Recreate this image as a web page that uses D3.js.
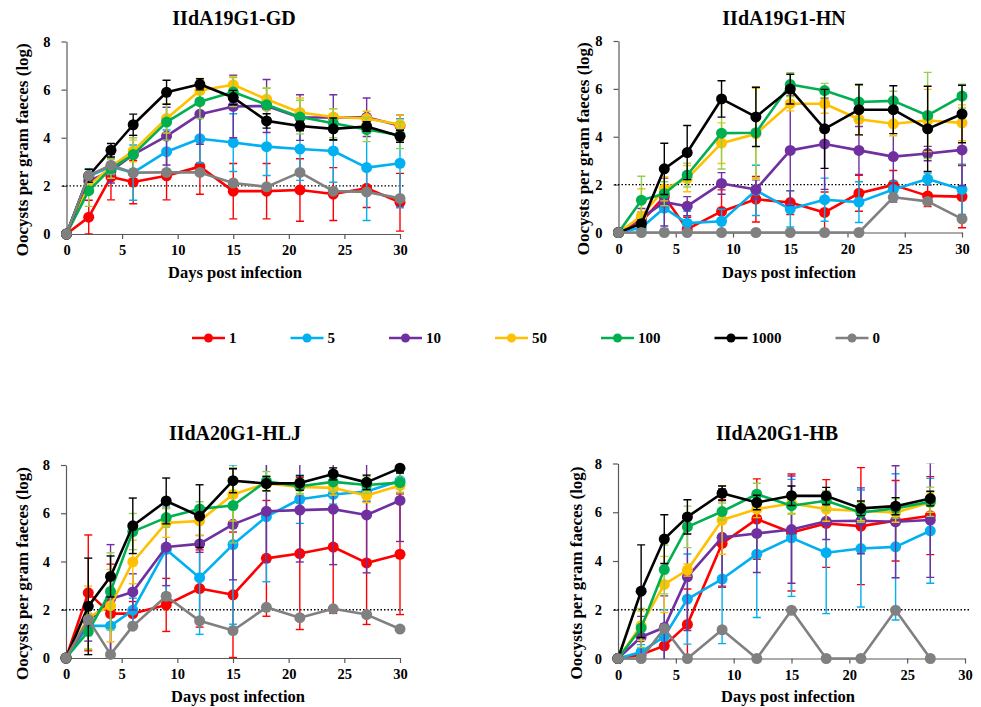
<!DOCTYPE html>
<html>
<head>
<meta charset="utf-8">
<script src="https://cdn.jsdelivr.net/npm/d3@7"></script>
<style>
  body { margin: 0; background: #fff; }
  svg { display: block; }
  text { font-family: "Liberation Serif", "Times New Roman", serif; font-weight: bold; fill: #000; }
</style>
</head>
<body>
<svg id="chart" width="981" height="707"></svg>
<script>
// doses (oocysts) and their colours, in drawing order
var doses = ["1", "5", "10", "50", "100", "1000", "0"];
var colors = ["#FF0000", "#00B0F0", "#7030A0", "#FFC000", "#00B050", "#000000", "#808080"];
var barColors = ["#FF0000", "#00B0F0", "#7030A0", "#FFC000", "#92D050", "#000000", "#808080"];

var days = [0, 2, 4, 6, 9, 12, 15, 18, 21, 24, 27, 30];
var daysHB = [0, 2, 4, 6, 9, 12, 15, 18, 21, 24, 27];
var xTicks = [0, 5, 10, 15, 20, 25, 30];
var yTicks = [0, 2, 4, 6, 8];
var threshold = 2;

var titles = ["IIdA19G1-GD", "IIdA19G1-HN", "IIdA20G1-HLJ", "IIdA20G1-HB"];

// one row per dose, same order as doses
var gdMean = [
  [0, 0.7, 2.37, 2.16, 2.42, 2.8, 1.78, 1.78, 1.83, 1.66, 1.9, 1.32],
  [0, 2.4, 2.8, 2.55, 3.42, 3.96, 3.8, 3.63, 3.53, 3.45, 2.76, 2.94],
  [0, 2.2, 2.62, 3.3, 4.07, 4.98, 5.3, 5.32, 4.84, 4.84, 4.85, 4.5],
  [0, 2.0, 2.8, 3.45, 4.8, 5.96, 6.2, 5.6, 5.05, 4.86, 4.8, 4.55],
  [0, 1.8, 2.72, 3.3, 4.65, 5.5, 5.9, 5.37, 4.86, 4.6, 4.34, 4.1],
  [0, 2.42, 3.48, 4.54, 5.89, 6.22, 5.67, 4.7, 4.49, 4.37, 4.47, 4.06],
  [0, 2.43, 2.86, 2.55, 2.56, 2.56, 2.12, 1.96, 2.56, 1.78, 1.75, 1.48]
];
var gdSd = [
  [0, 0.7, 0.95, 0.9, 1.0, 1.15, 1.15, 1.15, 1.3, 1.1, 0.8, 1.2],
  [0, 0.3, 0.35, 1.15, 0.9, 1.0, 1.2, 1.2, 1.3, 1.3, 2.2, 1.85],
  [0, 0.3, 0.5, 0.8, 1.2, 1.25, 1.3, 1.1, 0.95, 0.95, 0.8, 0.45],
  [0, 0.3, 0.3, 0.45, 0.6, 0.5, 0.35, 0.45, 0.6, 0.35, 0.3, 0.4],
  [0, 0.65, 0.4, 0.7, 0.75, 0.7, 0.6, 0.7, 0.7, 0.6, 0.5, 0.55],
  [0, 0.27, 0.28, 0.44, 0.5, 0.23, 0.3, 0.3, 0.2, 0.45, 0.2, 0.25],
  [0, 0, 0, 0, 0, 0, 0, 0, 0, 0, 0, 0]
];

var hnMean = [
  [0, 0.45, 1.5, 0.14, 0.88, 1.39, 1.25, 0.84, 1.64, 1.99, 1.53, 1.5],
  [0, 0.2, 1.02, 0.39, 0.47, 1.76, 0.98, 1.37, 1.27, 1.8, 2.23, 1.8],
  [0, 0.6, 1.27, 1.1, 2.05, 1.8, 3.43, 3.7, 3.43, 3.17, 3.3, 3.45],
  [0, 0.68, 1.82, 2.25, 3.73, 4.12, 5.38, 5.38, 4.73, 4.54, 4.68, 4.58],
  [0, 1.35, 1.62, 2.4, 4.15, 4.17, 6.18, 5.93, 5.45, 5.5, 4.89, 5.7],
  [0, 0.37, 2.66, 3.34, 5.58, 4.83, 5.99, 4.33, 5.13, 5.13, 4.33, 4.95],
  [0, 0, 0, 0, 0, 0, 0, 0, 0, 1.47, 1.3, 0.57]
];
var hnSd = [
  [0, 0.4, 0.3, 0.5, 0.9, 0.95, 0.5, 0.85, 0.75, 0.6, 0.45, 1.3],
  [0, 0.2, 0.85, 0.5, 0.5, 1.05, 0.75, 0.9, 0.85, 0.35, 0.25, 1.05],
  [0, 0.4, 1.0, 0.4, 0.45, 0.4, 2.3, 1.9, 1.0, 1.9, 0.3, 1.5],
  [0, 1.15, 0.5, 0.55, 0.85, 1.9, 0.3, 0.4, 0.65, 0.5, 1.3, 0.75],
  [0, 1.0, 0.5, 0.5, 1.5, 1.9, 0.5, 0.3, 0.7, 0.4, 1.8, 0.5],
  [0, 0.15, 1.07, 1.13, 0.76, 1.24, 0.62, 1.65, 1.05, 1.0, 1.78, 1.2],
  [0, 0, 0, 0, 0, 0, 0, 0, 0, 0, 0, 0]
];

var hljMean = [
  [0, 2.7, 1.84, 1.84, 2.2, 2.88, 2.62, 4.13, 4.33, 4.6, 3.94, 4.3],
  [0, 1.33, 1.33, 1.98, 4.5, 3.33, 4.7, 5.86, 6.58, 6.78, 6.9, 7.35],
  [0, 1.5, 2.45, 2.74, 4.6, 4.73, 5.54, 6.08, 6.13, 6.17, 5.93, 6.53],
  [0, 1.68, 2.17, 3.98, 5.6, 5.68, 6.78, 7.23, 7.09, 7.05, 6.74, 7.15],
  [0, 1.1, 2.76, 5.24, 5.82, 6.18, 6.32, 7.33, 7.12, 7.3, 7.17, 7.27],
  [0, 2.14, 3.38, 5.48, 6.51, 5.88, 7.35, 7.23, 7.25, 7.63, 7.28, 7.87],
  [0, 1.6, 0.15, 1.32, 2.56, 1.54, 1.14, 2.1, 1.67, 2.04, 1.8, 1.2]
];
var hljSd = [
  [0, 2.4, 2.05, 0.5, 1.1, 1.6, 2.6, 2.4, 3.15, 2.75, 2.55, 2.5],
  [0, 0.4, 1.1, 0.5, 1.8, 2.35, 3.3, 2.7, 1.0, 0.4, 0.4, 0.3],
  [0, 0.8, 2.25, 0.75, 1.6, 0.35, 2.3, 2.1, 2.15, 2.3, 2.4, 1.7],
  [0, 1.3, 1.5, 0.9, 0.6, 0.6, 1.1, 0.3, 0.3, 0.3, 0.3, 0.3],
  [0, 0.75, 1.6, 0.75, 0.4, 0.3, 1.55, 0.4, 0.3, 0.4, 0.35, 0.4],
  [0, 2.0, 0.85, 1.15, 0.95, 1.3, 0.5, 0.3, 0.3, 0.25, 0.3, 0.2],
  [0, 0, 0, 0, 0, 0, 0, 0, 0, 0, 0, 0]
];

var hbMean = [
  [0, 0.16, 0.52, 1.4, 4.72, 5.72, 5.17, 5.54, 5.43, 5.65, 5.86],
  [0, 0.27, 0.9, 2.44, 3.26, 4.28, 4.95, 4.34, 4.51, 4.58, 5.24],
  [0, 0.88, 1.27, 3.35, 4.97, 5.13, 5.29, 5.63, 5.65, 5.61, 5.68],
  [0, 1.35, 3.04, 3.63, 5.68, 6.13, 6.36, 6.13, 6.05, 5.99, 6.4],
  [0, 1.25, 3.65, 5.4, 6.03, 6.74, 6.27, 6.47, 5.99, 6.16, 6.43],
  [0, 2.76, 4.9, 5.81, 6.78, 6.4, 6.68, 6.67, 6.16, 6.25, 6.56],
  [0, 0, 1.23, 0, 1.18, 0, 1.98, 0, 0, 1.98, 0]
];
var hbSd = [
  [0, 0.2, 0.9, 1.45, 1.8, 1.65, 2.4, 1.8, 2.4, 1.65, 1.6],
  [0, 0.3, 1.1, 1.85, 2.65, 2.6, 2.4, 2.5, 2.4, 3.0, 2.15],
  [0, 0.85, 1.3, 2.2, 2.0, 1.6, 2.2, 0.75, 1.35, 2.3, 2.35],
  [0, 0.6, 1.15, 0.25, 1.4, 0.35, 0.4, 0.5, 0.4, 0.4, 0.4],
  [0, 0.8, 1.0, 0.85, 0.35, 0.45, 0.35, 0.4, 0.4, 0.4, 0.6],
  [0, 1.9, 1.0, 0.7, 0.3, 0.3, 0.4, 0.35, 0.3, 0.35, 0.3],
  [0, 0, 0, 0, 0, 0, 0, 0, 0, 0, 0, 0]
];

// plot areas in page pixels
var panels = [
  { title: titles[0], days: days, mean: gdMean, sd: gdSd, x0: 66.5, x1: 400, top: 41.5, bottom: 234, titleX: 234, titleY: 25, labelX: 235, labelY: 278, yLabelX: 28 },
  { title: titles[1], days: days, mean: hnMean, sd: hnSd, x0: 618.5, x1: 962, top: 41, bottom: 232.5, titleX: 784, titleY: 25, labelX: 789, labelY: 278, yLabelX: 589 },
  { title: titles[2], days: days, mean: hljMean, sd: hljSd, x0: 66, x1: 400, top: 465, bottom: 658, titleX: 235, titleY: 440, labelX: 238, labelY: 702, yLabelX: 28 },
  { title: titles[3], days: daysHB, mean: hbMean, sd: hbSd, x0: 618, x1: 965, top: 463.5, bottom: 658.5, titleX: 777, titleY: 440, labelX: 788, labelY: 702, yLabelX: 582 }
];

var svg = d3.select("#chart");

panels.forEach(function (p, pi) {
  var x = d3.scaleLinear().domain([0, 30]).range([p.x0, p.x1]);
  var y = d3.scaleLinear().domain([0, 8]).range([p.bottom, p.top]);
  var g = svg.append("g");

  g.append("clipPath").attr("id", "clip" + pi)
    .append("rect")
    .attr("x", p.x0 - 10).attr("y", p.top)
    .attr("width", p.x1 - p.x0 + 20).attr("height", p.bottom - p.top);

  // axes
  var xAxis = g.append("g")
    .attr("transform", "translate(0," + p.bottom + ")")
    .call(d3.axisBottom(x).tickValues(xTicks).tickSize(5).tickSizeOuter(0).tickPadding(6));
  var yAxis = g.append("g")
    .attr("transform", "translate(" + p.x0 + ",0)")
    .call(d3.axisLeft(y).tickValues(yTicks).tickSize(5).tickSizeOuter(0).tickPadding(11));
  [xAxis, yAxis].forEach(function (a) {
    a.attr("font-family", null).attr("font-size", null);
    a.select(".domain").attr("stroke", "#595959").attr("stroke-width", 1.2);
    a.selectAll(".tick line").attr("stroke", "#595959").attr("stroke-width", 1.2);
    a.selectAll(".tick text").style("font-size", "14.5px");
  });

  // detection limit
  g.append("line")
    .attr("x1", p.x0 - 4).attr("x2", p.x1 + 4)
    .attr("y1", y(threshold)).attr("y2", y(threshold))
    .attr("stroke", "#000").attr("stroke-width", 1.4)
    .attr("stroke-dasharray", "1.5,2");

  doses.forEach(function (dose, si) {
    var pts = p.days.map(function (d, i) {
      return { day: d, v: p.mean[si][i], sd: p.sd[si][i] };
    });
    var s = g.append("g");

    var bars = s.append("g").attr("clip-path", "url(#clip" + pi + ")")
      .attr("stroke", barColors[si]).attr("stroke-width", 1.4)
      .selectAll("g").data(pts.filter(function (d) { return d.sd > 0; }))
      .enter().append("g");
    bars.append("line")
      .attr("x1", function (d) { return x(d.day); })
      .attr("x2", function (d) { return x(d.day); })
      .attr("y1", function (d) { return y(d.v + d.sd); })
      .attr("y2", function (d) { return y(d.v - d.sd); });
    [1, -1].forEach(function (sign) {
      bars.append("line")
        .attr("x1", function (d) { return x(d.day) - 4; })
        .attr("x2", function (d) { return x(d.day) + 4; })
        .attr("y1", function (d) { return y(d.v + sign * d.sd); })
        .attr("y2", function (d) { return y(d.v + sign * d.sd); });
    });

    s.append("path")
      .datum(pts)
      .attr("fill", "none")
      .attr("stroke", colors[si])
      .attr("stroke-width", 2.6)
      .attr("stroke-linejoin", "round")
      .attr("d", d3.line().x(function (d) { return x(d.day); }).y(function (d) { return y(d.v); }));

    s.selectAll("circle").data(pts).enter().append("circle")
      .attr("cx", function (d) { return x(d.day); })
      .attr("cy", function (d) { return y(d.v); })
      .attr("r", 5.5)
      .attr("fill", colors[si]);
  });

  // labels
  g.append("text")
    .attr("x", p.titleX).attr("y", p.titleY)
    .attr("text-anchor", "middle").style("font-size", "20px")
    .text(p.title);
  g.append("text")
    .attr("x", p.labelX).attr("y", p.labelY)
    .attr("text-anchor", "middle").style("font-size", "16.5px")
    .text("Days post infection");
  g.append("text")
    .attr("transform", "translate(" + p.yLabelX + "," + ((p.top + p.bottom) / 2 + 12) + ") rotate(-90)")
    .attr("text-anchor", "middle").style("font-size", "17px")
    .text("Oocysts per gram faeces (log)");
});

// legend
var legend = svg.append("g").attr("transform", "translate(192,338)");
var lx = 0;
doses.forEach(function (dose, si) {
  var item = legend.append("g").attr("transform", "translate(" + lx + ",0)");
  item.append("line").attr("x1", 0).attr("x2", 33).attr("y1", 0).attr("y2", 0)
    .attr("stroke", colors[si]).attr("stroke-width", 2.6);
  item.append("circle").attr("cx", 16.5).attr("cy", 0).attr("r", 4.5).attr("fill", colors[si]);
  var t = item.append("text").attr("x", 37).attr("y", 5).style("font-size", "15px").text(dose);
  lx += 37 + t.node().getComputedTextLength() + 54;
});
</script>
</body>
</html>
